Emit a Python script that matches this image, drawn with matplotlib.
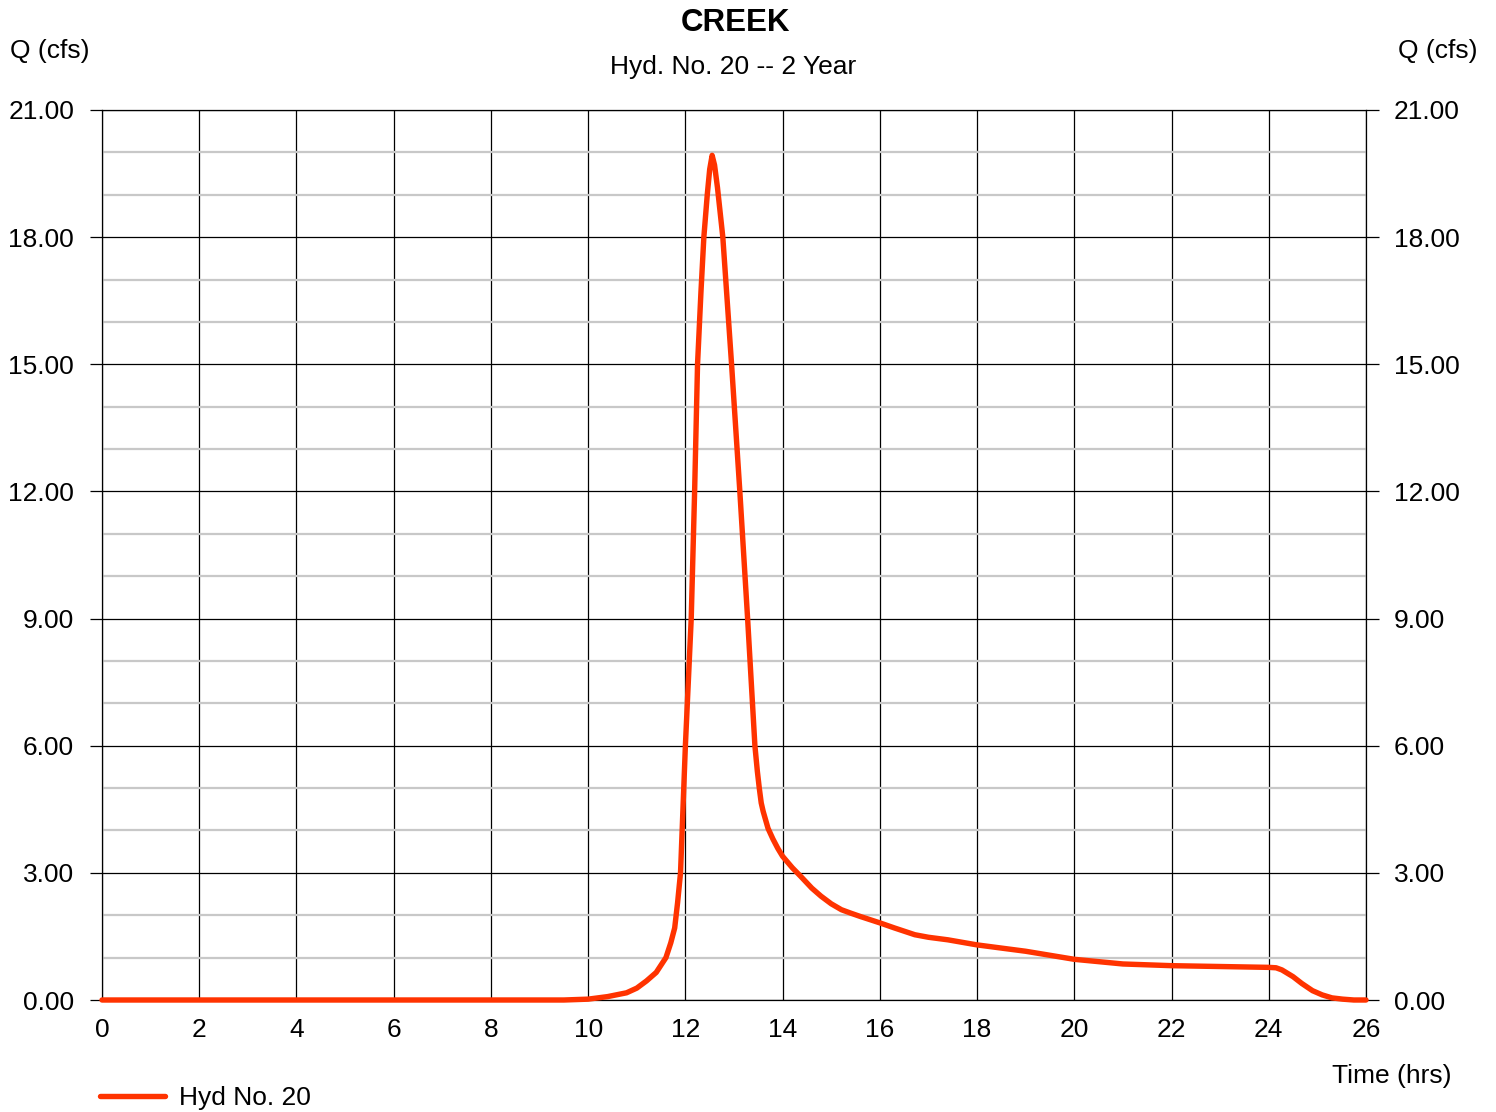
import matplotlib
matplotlib.use("Agg")
import matplotlib.pyplot as plt
from matplotlib.ticker import MultipleLocator, FormatStrFormatter

plt.rcParams["font.family"] = ["Liberation Sans", "DejaVu Sans"]

# Hydrograph (time in hrs, flow in cfs)
time_hrs = [0.0, 9.5, 10.0, 10.4, 10.79, 11.0, 11.2, 11.4, 11.6, 11.7, 11.78,
            11.84, 11.9, 12.0, 12.12, 12.19, 12.25, 12.32, 12.38, 12.45, 12.5,
            12.55, 12.6, 12.66, 12.77, 12.95, 13.12, 13.28, 13.43, 13.48,
            13.52, 13.56, 13.6, 13.7, 13.8, 13.9, 14.0, 14.2, 14.37, 14.6,
            14.79, 15.0, 15.21, 15.4, 15.6, 16.0, 16.3, 16.72, 17.0, 17.4,
            18.0, 19.0, 20.0, 21.0, 22.0, 23.0, 24.0, 24.15, 24.27, 24.5,
            24.68, 24.9, 25.1, 25.3, 25.52, 25.75, 26.0]
flow_cfs = [0.0, 0.0, 0.02, 0.08, 0.17, 0.28, 0.45, 0.65, 1.0, 1.35, 1.7,
            2.3, 3.0, 6.0, 9.0, 12.0, 15.0, 16.7, 18.0, 19.0, 19.6,
            19.93, 19.7, 19.17, 18.0, 15.0, 12.0, 9.0, 6.0, 5.4,
            5.0, 4.65, 4.45, 4.05, 3.8, 3.58, 3.39, 3.12, 2.92, 2.64,
            2.45, 2.27, 2.13, 2.05, 1.97, 1.82, 1.70, 1.54, 1.48, 1.42,
            1.30, 1.15, 0.96, 0.85, 0.81, 0.79, 0.77, 0.76, 0.71, 0.55,
            0.39, 0.22, 0.12, 0.05, 0.02, 0.0, 0.0]

TITLE = "CREEK"
SUBTITLE = "Hyd. No. 20 -- 2 Year"
SERIES_LABEL = "Hyd No. 20"
LINE_COLOR = "#FF3300"

W, H = 1496, 1112
fig = plt.figure(figsize=(W / 100, H / 100), dpi=100)
ax = fig.add_axes([102 / W, 1 - 1000 / H, (1366 - 102) / W, (1000 - 110) / H])

line, = ax.plot(time_hrs, flow_cfs, color=LINE_COLOR, lw=3.9,
                solid_capstyle="round", solid_joinstyle="round", zorder=5,
                clip_on=False, label=SERIES_LABEL)

ax.set_xlim(0, 26)
ax.set_ylim(0, 21)
ax.xaxis.set_major_locator(MultipleLocator(2))
ax.yaxis.set_major_locator(MultipleLocator(3))
ax.yaxis.set_minor_locator(MultipleLocator(1))
ax.yaxis.set_major_formatter(FormatStrFormatter("%.2f"))

ax.set_axisbelow(True)
ax.grid(which="minor", axis="y", color="#c8c8c8", lw=1.6)
ax.grid(which="major", color="black", lw=0.9)

ax.tick_params(axis="y", which="major", length=9, width=0.9, direction="out",
               left=True, right=True, labelleft=True, labelright=True,
               labelsize=19, pad=11)
ax.tick_params(axis="y", which="minor", length=0)
ax.tick_params(axis="x", length=0, labelsize=19, pad=13)
for sp in ax.spines.values():
    sp.set_color("black")
    sp.set_linewidth(0.9)

fig.text(735 / W, 1 - 23 / H, TITLE, ha="center", va="center",
         fontsize=22.5, fontweight="bold")
fig.text(733 / W, 1 - 67 / H, SUBTITLE, ha="center", va="center", fontsize=19)
fig.text(10 / W, 1 - 51 / H, "Q (cfs)", ha="left", va="center", fontsize=19)
fig.text(1478 / W, 1 - 51 / H, "Q (cfs)", ha="right", va="center", fontsize=19)
fig.text(1452 / W, 1 - 1076 / H, "Time (hrs)", ha="right", va="center",
         fontsize=19)

fig.legend(handles=[line], loc="center left",
           bbox_to_anchor=(100 / W, 1 - 1098 / H), frameon=False,
           fontsize=19, handlelength=2.45, handletextpad=0.55,
           borderpad=0, borderaxespad=0)

fig.savefig("out.png", dpi=100)
